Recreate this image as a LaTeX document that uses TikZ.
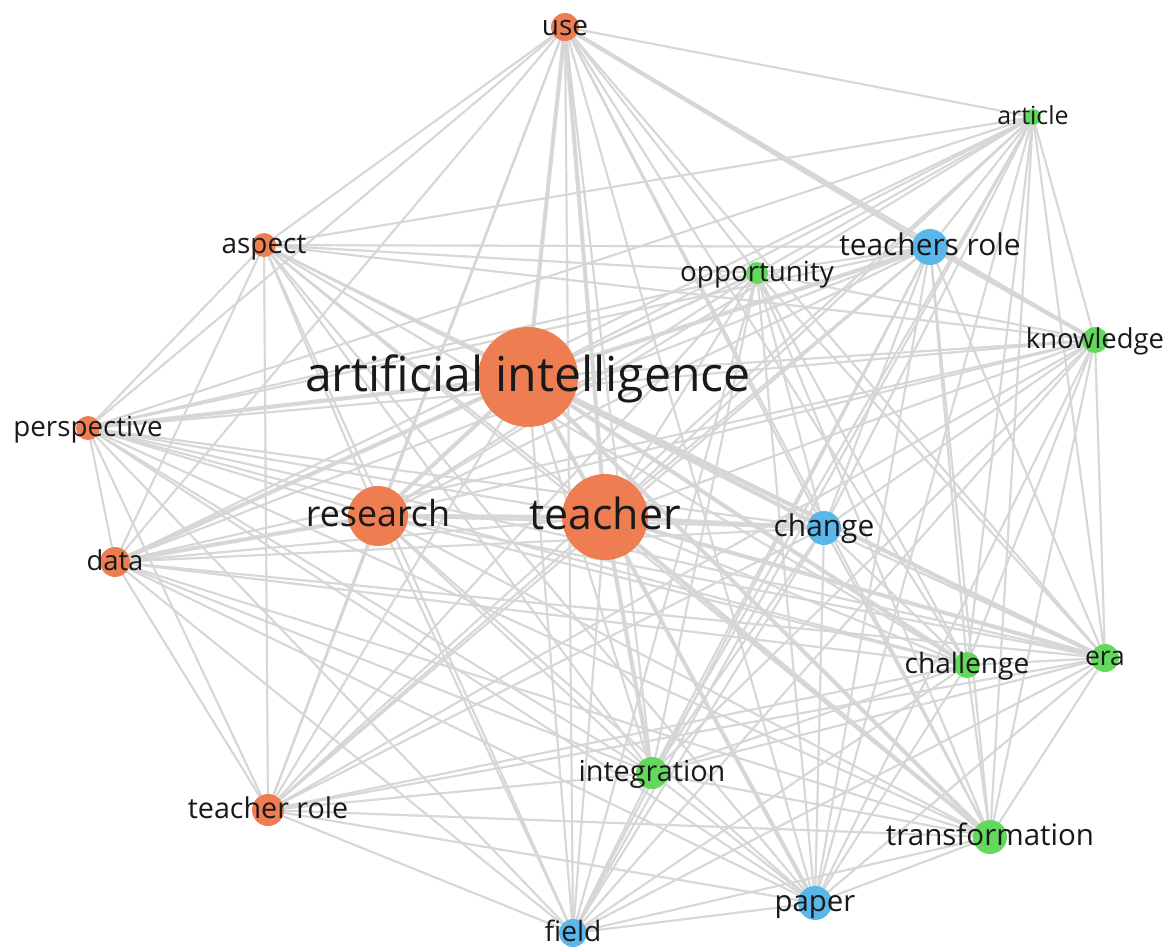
\documentclass[tikz,border=0pt]{standalone}
\usepackage{fontspec}
\setmainfont{Open Sans}
\usepackage{tikz}
\usetikzlibrary{backgrounds}

\definecolor{kworange}{HTML}{EE7D52}
\definecolor{kwgreen}{HTML}{62D95C}
\definecolor{kwblue}{HTML}{5BB7EA}
\definecolor{linkgray}{HTML}{D6D6D6}

\tikzset{
  dot/.style={circle, inner sep=0pt, draw=none},
  link/.style={draw=linkgray, line width=1.1pt, opacity=0.85},
  heavylink/.style={draw=linkgray, line width=2.4pt, opacity=0.9},
  word/.style={anchor=base, inner sep=0pt, text=black!90}
}

\begin{document}
\begin{tikzpicture}[x=0.02cm, y=-0.02cm]
            \useasboundingbox (0,0) rectangle (1174,948);

            % Nodes
            \foreach \n/\x/\y/\r/\c/\f/\t in {
                ai/528/377/50/kworange/27.4/artificial intelligence,
                teacher/605/517/43/kworange/24.4/teacher,
                research/378/516/30/kworange/20.4/research,
                use/565/27/14/kworange/15.9/use,
                aspect/264/245/12/kworange/15.9/aspect,
                persp/88/428/12/kworange/15.8/perspective,
                data/115/562/15/kworange/15.6/data,
                trole/268/810/16/kworange/16.3/teacher role,
                field/573/933/14/kwblue/16/field,
                integ/652/773/16/kwgreen/16.4/integration,
                paper/815/903/17/kwblue/16.7/paper,
                transf/990/837/17/kwgreen/16.8/transformation,
                era/1105/658/14/kwgreen/15/era,
                chall/967/665/13/kwgreen/16/challenge,
                change/824/528/17/kwblue/17/change,
                know/1095/340/13/kwgreen/15.6/knowledge,
                tsrole/930/247/18/kwblue/17/teachers role,
                opp/757/273/11/kwgreen/15.8/opportunity,
                article/1033/117/8/kwgreen/14.2/article}
            {
                \node[dot, fill=\c, minimum size=\r*0.04cm] (\n) at (\x,\y) {};
                \node[word, font=\fontsize{\f}{\f}\selectfont, yshift={-0.3*\f pt}] (\n-txt) at (\n.center) {\t};
            }

            % Edges
            \begin{scope}[on background layer]
            \foreach \a in {ai,teacher,research,use,aspect,persp,data,trole,field,integ,paper,transf,era,chall,change,know,tsrole,opp,article}
                \foreach \b in {ai,teacher,research,use,aspect,persp,data,trole,field,integ,paper,transf,era,chall,change,know,tsrole,opp,article}
                    \draw[link] (\a.center) -- (\b.center);
            \foreach \a/\b in {ai/teacher, ai/research, teacher/research, ai/change, teacher/change,
                               ai/era, teacher/era, ai/transf, teacher/paper, ai/use, teacher/use,
                               ai/tsrole, use/tsrole, tsrole/know, ai/chall, teacher/integ,
                               research/data, ai/persp, ai/data, teacher/transf}
                \draw[heavylink] (\a.center) -- (\b.center);
            \end{scope}
        \end{tikzpicture}
\end{document}
